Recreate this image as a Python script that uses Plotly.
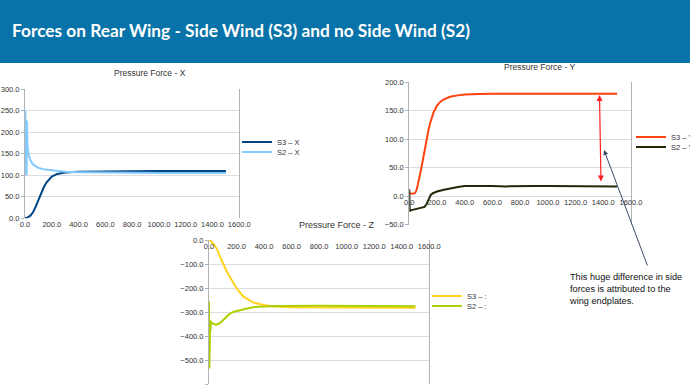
import plotly.graph_objects as go

# ---------------- data ----------------
s3x_t = [0, 20, 40, 60, 80, 100, 120, 140, 160, 180, 200, 240, 300, 400, 600, 1000, 1500]
s3x_v = [0, 2, 6, 14, 27, 43, 58, 72, 83, 91, 97, 103, 106, 108, 109, 109.5, 110]

s2x_t = [0, 2, 5, 8, 12, 15, 18, 25, 40, 60, 100, 150, 200, 300, 400, 600, 1000, 1500]
s2x_v = [100, 250, 100, 228, 100, 225, 170, 150, 135, 125, 117, 113, 111, 108, 107, 106, 105, 105]

s3y_t = [0, 20, 40, 50, 60, 70, 80, 90, 100, 110, 120, 130, 140, 150, 160, 175, 200, 225, 250, 300, 350, 400, 500, 600, 1500]
s3y_v = [5, 4, 5, 9, 18, 28, 40, 53, 66, 80, 93, 106, 118, 128, 137, 147, 159, 166, 170, 175, 177, 178.5, 179.5, 180, 180]

s2y_t = [0, 3, 10, 30, 60, 90, 110, 125, 140, 155, 170, 200, 250, 300, 350, 400, 500, 600, 700, 800, 900, 1000, 1200, 1500]
s2y_v = [12, -27, -25, -24, -22, -21, -19, -14, -6, 2, 5, 8, 11, 14, 16, 17.5, 18, 17.5, 17, 18, 17.8, 17.5, 17, 17]

s3z_t = [0, 15, 30, 55, 80, 105, 130, 165, 200, 250, 320, 395, 470, 600, 1000, 1500]
s3z_v = [0, -5, -14, -35, -69, -104, -132, -167, -201, -236, -260, -271, -277, -280, -281, -282]

s2z_t = [0, 2, 4, 6, 8, 10, 15, 25, 50, 75, 100, 125, 150, 175, 200, 250, 300, 350, 400, 500, 800, 1000, 1500]
s2z_v = [-255, -535, -340, -430, -335, -380, -340, -348, -353, -348, -335, -320, -308, -300, -296, -288, -282, -278, -276, -275, -274, -275, -276]

x_ticks = [0, 200, 400, 600, 800, 1000, 1200, 1400, 1600]

series_names = ["S3 – X", "S2 – X", "S3 – Y", "S2 – Y", "S3 – :", "S2 – :"]
series_colors = ["#004586", "#83CAFF", "#FF420E", "#1E2B0A", "#FFD320", "#AECF00"]

W, H = 690, 387
def px(x): return x / W
def py(y): return 1 - y / H

data = [(s3x_t, s3x_v, "x", "y"), (s2x_t, s2x_v, "x", "y"),
        (s3y_t, s3y_v, "x2", "y2"), (s2y_t, s2y_v, "x2", "y2"),
        (s3z_t, s3z_v, "x3", "y3"), (s2z_t, s2z_v, "x3", "y3")]
legend_ids = ["legend", "legend2", "legend3", "legend4", "legend5", "legend6"]

fig = go.Figure()
for (t, v, xa, ya), nm, col, lg in zip(data, series_names, series_colors, legend_ids):
    fig.add_trace(go.Scatter(x=t, y=v, name=nm, mode="lines",
                             line=dict(color=col, width=2), xaxis=xa, yaxis=ya, legend=lg))

tickfont = dict(family="Liberation Sans, Arial", size=7.5, color="#333333")
grid = "#dddddd"
axline = "#b3b3b3"

def xax(dom, **kw):
    d = dict(domain=dom, range=[0, 1600], tickvals=x_ticks, tickformat=".1f",
             showgrid=False, zeroline=False, showline=False, tickfont=tickfont,
             ticks="", fixedrange=True)
    d.update(kw)
    return d

def yax(dom, rng, dt, **kw):
    d = dict(domain=dom, range=rng, dtick=dt, tickformat=".1f", showgrid=True,
             gridcolor=grid, gridwidth=1, zeroline=False, showline=True, linecolor=axline,
             mirror=True, linewidth=1, ticks="outside", ticklen=3, tickcolor=axline,
             tickfont=tickfont, fixedrange=True)
    d.update(kw)
    return d

legfont = dict(family="Liberation Sans, Arial", size=7.5, color="#333")
def leg(xp, yp):
    return dict(x=px(xp), y=py(yp), xanchor="left", yanchor="middle", font=legfont,
                bgcolor="rgba(0,0,0,0)", borderwidth=0)

# legend item centre positions (pixels): text starts ~ at x + 40
legend_pos = [(237, 142), (237, 152), (631, 137), (631, 147), (427, 296), (427, 306)]

layout = dict(
    width=W, height=H, margin=dict(l=0, r=0, t=0, b=0, autoexpand=False),
    paper_bgcolor="white", plot_bgcolor="white", showlegend=True,
    xaxis=xax([px(25), px(239.3)], anchor="y"),
    yaxis=yax([py(218.3), py(89)], [0, 300], 50, anchor="x"),
    xaxis2=xax([px(409.3), px(631)], anchor="free", position=py(196)),
    yaxis2=yax([py(224.5), py(82.3)], [-50, 200], 50, anchor="x2"),
    xaxis3=xax([px(209), px(429.3)], anchor="free", position=py(240)),
    yaxis3=yax([py(384), py(240)], [-600, 0], 100, anchor="x3"),
)
for lg, (lx, ly) in zip(legend_ids, legend_pos):
    layout[lg] = leg(lx, ly)
fig.update_layout(**layout)

# header bar
fig.add_shape(type="rect", xref="paper", yref="paper", x0=0, x1=1, y0=py(63), y1=1,
              fillcolor="#0873A8", line=dict(width=0), layer="below")

title_font = dict(family="Liberation Sans, Arial", size=8.5, color="#333333")
annots = [
    dict(text="Forces on Rear Wing - Side Wind (S3) and no Side Wind (S2)",
         x=px(10), y=py(31), xanchor="left", yanchor="middle",
         font=dict(family="Lato", size=17.3, weight=700, color="white")),
    dict(text="Pressure Force - X", x=px(150), y=py(73), xanchor="center", yanchor="middle", font=title_font),
    dict(text="Pressure Force - Y", x=px(540), y=py(67), xanchor="center", yanchor="middle", font=title_font),
    dict(text="Pressure Force - Z", x=px(337), y=py(225), xanchor="center", yanchor="middle",
         font=dict(family="Liberation Sans, Arial", size=9, color="#333333")),
    dict(text="This huge difference in side<br>forces is attributed to the<br>wing endplates.",
         x=px(567), y=py(270), xanchor="left", yanchor="top", align="left",
         font=dict(family="Liberation Sans, Arial", size=9.2, color="#111111")),
]
for a in annots:
    a.update(xref="paper", yref="paper", showarrow=False)
    fig.add_annotation(**a)

# red double arrow (head at top, tail at bottom; pixel offsets)
fig.add_annotation(xref="paper", yref="paper", x=px(599.5), y=py(95), ax=1.5, ay=88,
                   axref="pixel", ayref="pixel", text="", showarrow=True, arrowhead=2,
                   arrowside="end+start", arrowsize=1, arrowwidth=1.2, arrowcolor="#FF2020")
# dark pointer arrow
fig.add_annotation(xref="paper", yref="paper", x=px(604), y=py(150), ax=44, ay=117,
                   axref="pixel", ayref="pixel", text="", showarrow=True, arrowhead=2,
                   arrowsize=1, arrowwidth=1, arrowcolor="#3B4A6B")

fig.write_html("out.html", config={"displayModeBar": False},
               post_script="document.body.style.margin='0';document.body.style.overflow='hidden';")
